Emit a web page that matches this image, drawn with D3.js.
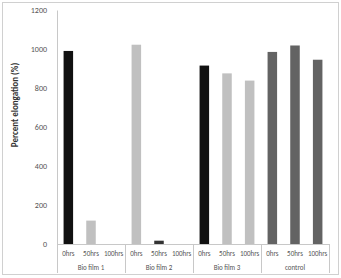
<!DOCTYPE html>
<html><head><meta charset="utf-8">
<script src="https://cdn.jsdelivr.net/npm/d3@7"></script>
<style>body{margin:0;background:#fff}svg{display:block}text{font-family:Calibri,Carlito,"Liberation Sans",Arial,sans-serif}</style>
</head><body><svg id="c" width="341" height="278"></svg>
<script>
const groups = ["Bio film 1", "Bio film 2", "Bio film 3", "control"];
const times = ["0hrs", "50hrs", "100hrs"];
const values = [
  [990, 120, 0],
  [1022, 17, 0],
  [915, 875, 838],
  [985, 1018, 945]
];
const colors = [
  ["#111111", "#c0c0c0", "#c0c0c0"],
  ["#c0c0c0", "#333333", "#c0c0c0"],
  ["#111111", "#c0c0c0", "#c0c0c0"],
  ["#636363", "#636363", "#636363"]
];
const yTicks = [0, 200, 400, 600, 800, 1000, 1200];

const svg = d3.select("#c");
const L = 57, R = 329, T = 10, B = 244;
svg.append("rect").attr("x", 2.5).attr("y", 2.5).attr("width", 336).attr("height", 272)
  .attr("fill", "#fff").attr("stroke", "#d0d0d0");

const cats = [];
groups.forEach((g, gi) => times.forEach((t, ti) => cats.push({g, gi, t, ti, v: values[gi][ti], c: colors[gi][ti], key: gi + "-" + ti})));

const x = d3.scaleBand().domain(cats.map(d => d.key)).range([L, R]).paddingInner(0.58).paddingOuter(0.29);
const xo = d3.scaleBand().domain(cats.map(d => d.key)).range([L, R]);
const y = d3.scaleLinear().domain([0, 1200]).range([B, T]);

// y axis
const ya = svg.append("g").attr("transform", `translate(${L},0)`)
  .call(d3.axisLeft(y).tickValues(yTicks).tickFormat(d3.format("d")).tickSize(0).tickPadding(10));
ya.select(".domain").attr("stroke", "#c8c8c8");
ya.selectAll("text").attr("fill", "#555").style("font-size", "8px");

// bars
svg.selectAll("rect.bar").data(cats).join("rect").attr("class", "bar")
  .attr("x", d => x(d.key)).attr("width", x.bandwidth())
  .attr("y", d => y(d.v)).attr("height", d => B - y(d.v))
  .attr("fill", d => d.c);

// x axis
svg.append("line").attr("x1", L).attr("x2", R).attr("y1", B + 0.5).attr("y2", B + 0.5).attr("stroke", "#c8c8c8");
const gW = (R - L) / groups.length;
const gx = d3.scaleBand().domain(groups).range([L, R]);
for (let i = 0; i <= groups.length; i++) {
  const xx = Math.round(L + i * gW) + 0.5;
  svg.append("line").attr("x1", xx).attr("x2", xx).attr("y1", B).attr("y2", 273).attr("stroke", "#c8c8c8");
}
svg.selectAll("text.cat").data(cats).join("text").attr("class", "cat")
  .attr("x", d => xo(d.key) + xo.bandwidth() / 2).attr("y", 256)
  .attr("text-anchor", "middle").attr("fill", "#555").style("font-size", "7px").text(d => d.t);
svg.selectAll("text.grp").data(groups).join("text").attr("class", "grp")
  .attr("x", d => gx(d) + gx.bandwidth() / 2).attr("y", 270)
  .attr("text-anchor", "middle").attr("fill", "#555").style("font-size", "7px").text(d => d);

// y title
svg.append("text").attr("transform", "translate(18,105) rotate(-90)")
  .attr("text-anchor", "middle").attr("fill", "#333").style("font-size", "9px").style("font-weight", "bold")
  .text("Percent elongation (%)");
</script></body></html>
